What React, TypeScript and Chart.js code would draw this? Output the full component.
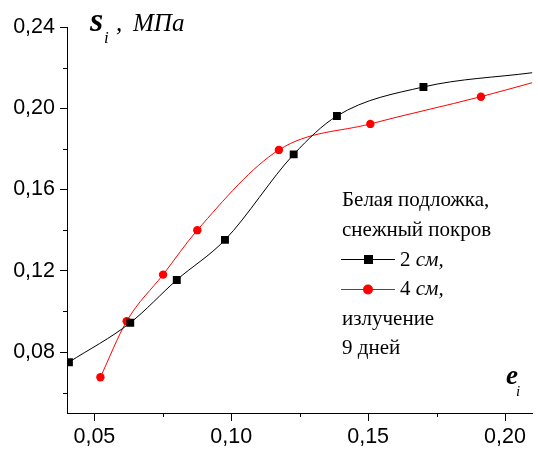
import React, { useEffect, useRef } from "react";
import { Chart, registerables } from "chart.js";

Chart.register(...registerables);

// Series: 2 cm snow cover (black squares)
const blackX = [0.0407, 0.0631, 0.0801, 0.0977, 0.1228, 0.1386, 0.1702];
const blackY = [0.075, 0.0944, 0.1155, 0.1352, 0.1773, 0.1962, 0.2105];
const blackTail = { x: 0.21, y: 0.2175 };

// Series: 4 cm snow cover (red circles)
const redX = [0.0522, 0.0618, 0.0751, 0.0876, 0.1174, 0.1508, 0.1912];
const redY = [0.0676, 0.0952, 0.1181, 0.14, 0.1795, 0.1923, 0.2057];
const redTail = { x: 0.21, y: 0.2126 };

const xMajor = [0.05, 0.1, 0.15, 0.2];
const xMinor = [0.075, 0.125, 0.175];
const yMajor = [0.08, 0.12, 0.16, 0.2, 0.24];
const yMinor = [0.06, 0.1, 0.14, 0.18, 0.22];

const legendTitle = ["Белая подложка,", "снежный покров"];
const legendItems = [
  { num: "2 ", unit: "см,", color: "#000000", style: "rect" },
  { num: "4 ", unit: "см,", color: "#ff0000", style: "circle" },
];
const legendFooter = ["излучение", "9 дней"];

const SERIF = '"Liberation Serif", "Times New Roman", "DejaVu Serif", serif';
const SANS = '"Liberation Sans", Arial, sans-serif';

const LEG_X = 342;
const LEG_B0 = 207;
const LEG_H = 29.6;

const fmt = (v: number) => v.toFixed(2).replace(".", ",");

const overlayPlugin = {
  id: "overlay",
  afterDraw(chart: any) {
    const ctx = chart.ctx as CanvasRenderingContext2D;
    const xs = chart.scales.x;
    const ys = chart.scales.y;
    ctx.save();
    ctx.strokeStyle = "#000";
    ctx.lineWidth = 1;
    xMinor.forEach((v) => {
      const px = Math.round(xs.getPixelForValue(v)) + 0.5;
      ctx.beginPath();
      ctx.moveTo(px, xs.top);
      ctx.lineTo(px, xs.top + 4);
      ctx.stroke();
    });
    yMinor.forEach((v) => {
      const py = Math.round(ys.getPixelForValue(v)) + 0.5;
      ctx.beginPath();
      ctx.moveTo(ys.right, py);
      ctx.lineTo(ys.right - 4, py);
      ctx.stroke();
    });
    // legend sample lines and markers
    legendItems.forEach((it, i) => {
      const by = LEG_B0 + (legendTitle.length + i) * LEG_H;
      const cy = Math.round(by - 7);
      ctx.strokeStyle = it.color;
      ctx.fillStyle = it.color;
      ctx.beginPath();
      ctx.moveTo(341, cy + 0.5);
      ctx.lineTo(395, cy + 0.5);
      ctx.stroke();
      if (it.style === "rect") {
        ctx.fillRect(364, cy - 4, 9, 9);
      } else {
        ctx.beginPath();
        ctx.arc(368, cy + 0.5, 5, 0, Math.PI * 2);
        ctx.fill();
      }
    });
    ctx.restore();
  },
};

// place text by its baseline (Liberation Serif metrics, line-height = font size)
const txt = (left: number, baseline: number, size: number, extra: any = {}) => ({
  position: "absolute" as const,
  left,
  top: baseline - 0.8375 * size,
  fontFamily: SERIF,
  fontSize: size,
  lineHeight: size + "px",
  whiteSpace: "nowrap" as const,
  color: "#000",
  margin: 0,
  ...extra,
});

export default function App() {
  const ref = useRef<HTMLCanvasElement | null>(null);
  useEffect(() => {
    if (!ref.current) return;
    const blackData = blackX.map((x, i) => ({ x, y: blackY[i] })).concat([blackTail]);
    const redData = redX.map((x, i) => ({ x, y: redY[i] })).concat([redTail]);
    const chart = new Chart(ref.current, {
      type: "line",
      data: {
        datasets: [
          {
            label: "2 см",
            data: blackData,
            borderColor: "#000",
            backgroundColor: "#000",
            borderWidth: 1,
            pointStyle: "rect",
            pointRadius: (c: any) => (c.dataIndex < blackX.length ? 5.6 : 0),
            pointBorderWidth: 0,
            cubicInterpolationMode: "monotone",
          },
          {
            label: "4 см",
            data: redData,
            borderColor: "#ff0000",
            backgroundColor: "#ff0000",
            borderWidth: 1,
            pointStyle: "circle",
            pointRadius: (c: any) => (c.dataIndex < redX.length ? 4.2 : 0),
            pointBorderWidth: 0,
            cubicInterpolationMode: "monotone",
          },
        ],
      },
      options: {
        responsive: false,
        animation: false,
        layout: { padding: { top: 27, right: 0, left: 0, bottom: 0 } },
        plugins: {
          legend: { display: false },
          tooltip: { enabled: false },
        },
        scales: {
          x: {
            type: "linear",
            min: 0.04,
            max: 0.21,
            afterBuildTicks: (s: any) => {
              s.ticks = xMajor.map((v) => ({ value: v }));
            },
            afterFit: (s: any) => {
              s.height = 41;
            },
            ticks: {
              autoSkip: false,
              maxRotation: 0,
              padding: 3,
              color: "#000",
              font: { family: SANS, size: 21.5 },
              callback: (v: any) => fmt(Number(v)),
            },
            grid: { drawOnChartArea: false, drawTicks: true, tickLength: 8, color: "#000" },
            border: { color: "#000", width: 1 },
          },
          y: {
            type: "linear",
            min: 0.05,
            max: 0.24,
            afterBuildTicks: (s: any) => {
              s.ticks = yMajor.map((v) => ({ value: v }));
            },
            afterFit: (s: any) => {
              s.width = 67;
            },
            ticks: {
              autoSkip: false,
              padding: 5,
              color: "#000",
              font: { family: SANS, size: 21.5 },
              callback: (v: any) => fmt(Number(v)),
            },
            grid: { drawOnChartArea: false, drawTicks: true, tickLength: 7, color: "#000" },
            border: { color: "#000", width: 1 },
          },
        },
      },
      plugins: [overlayPlugin],
    } as any);
    return () => chart.destroy();
  }, []);

  const legendLines: any[] = [];
  legendTitle.forEach((t, i) =>
    legendLines.push(
      <div key={"t" + i} style={txt(LEG_X, LEG_B0 + i * LEG_H, 21)}>
        {t}
      </div>
    )
  );
  legendItems.forEach((it, i) =>
    legendLines.push(
      <div key={"l" + i} style={txt(400, LEG_B0 + (legendTitle.length + i) * LEG_H, 21)}>
        {it.num}
        <span style={{ fontStyle: "italic" }}>{it.unit}</span>
      </div>
    )
  );
  legendFooter.forEach((t, i) =>
    legendLines.push(
      <div key={"f" + i} style={txt(LEG_X, LEG_B0 + (legendTitle.length + legendItems.length + i) * LEG_H, 21)}>
        {t}
      </div>
    )
  );

  return (
    <div style={{ position: "absolute", left: 0, top: 0, width: 538, height: 454, background: "#fff", overflow: "hidden" }}>
      <canvas ref={ref} width={538} height={454} style={{ display: "block" }} />
      <div style={txt(90, 31, 34, { fontStyle: "italic", fontWeight: "bold" })}>s</div>
      <div style={txt(104, 43, 17, { fontStyle: "italic" })}>i</div>
      <div style={txt(116, 31, 25, { fontStyle: "italic" })}>,</div>
      <div style={txt(133, 31, 25, { fontStyle: "italic" })}>МПа</div>
      <div style={txt(506, 385, 27, { fontStyle: "italic", fontWeight: "bold" })}>e</div>
      <div style={txt(516, 397, 15, { fontStyle: "italic" })}>i</div>
      {legendLines}
    </div>
  );
}
